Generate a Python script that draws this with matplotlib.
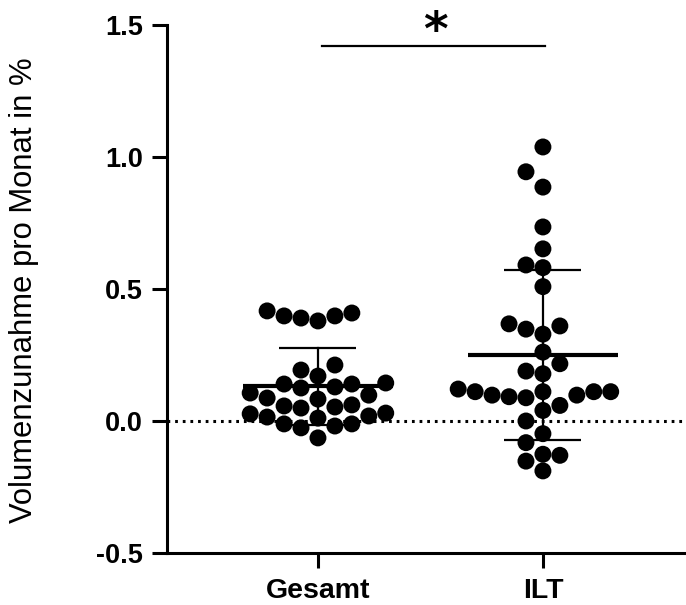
import numpy as np
import matplotlib
matplotlib.use('Agg')
import matplotlib.pyplot as plt

categories = ['Gesamt', 'ILT']
gesamt = [0.398, 0.409, 0.390, 0.379, 0.398, 0.417,
          0.212, 0.193, 0.170, 0.125, 0.129, 0.140, 0.140, 0.144, 0.098, 0.106,
          0.053, 0.061, 0.057, 0.049, 0.087, 0.083,
          0.030, 0.027, 0.019, 0.011, 0.015,
          -0.011, -0.011, -0.019, -0.026, -0.064]
ilt = [1.038, 0.944, 0.886, 0.735, 0.652, 0.581, 0.591,
       0.509, 0.348, 0.368, 0.360, 0.329,
       0.261, 0.217, 0.179, 0.189,
       0.111, 0.111, 0.092, 0.098, 0.088, 0.098, 0.121, 0.111, 0.111,
       0.059, 0.040, 0.000, -0.048,
       -0.082, -0.126, -0.130, -0.152, -0.189]
y_ticks = [-0.5, 0.0, 0.5, 1.0, 1.5]
y_tick_labels = ['-0.5', '0.0', '0.5', '1.0', '1.5']
y_label = 'Volumenzunahme pro Monat in %'
sig_label = '*'
sig_y = 1.42

plt.rcParams['font.family'] = ['Liberation Sans', 'DejaVu Sans']

W, H = 686, 605
fig = plt.figure(figsize=(W / 100, H / 100), dpi=100)
ax = fig.add_axes([167 / W, (H - 553) / H, (686 - 167) / W, (553 - 25) / H])
ax.set_xlim(-0.671, 1.636)
ax.set_ylim(-0.5, 1.5)

marker_pt = 12.2
diam_px = marker_pt * 100 / 72

p0 = ax.transData.transform((0, 0))
p1 = ax.transData.transform((1, 1))
sx, sy = p1 - p0


def swarm(values):
    values = np.asarray(values)
    order = np.argsort(values)
    slots = {}
    xs = np.zeros(len(values))
    cands = [0]
    for n in range(1, 30):
        cands += [-n, n]
    for i in order:
        ypx = values[i] * sy
        for c in cands:
            if all(abs(ypx - yy) >= diam_px * 0.98 for yy in slots.get(c, [])):
                break
        slots.setdefault(c, []).append(ypx)
        xs[i] = c * diam_px / sx
    return xs


ax.axhline(0, color='black', lw=2.2, linestyle=(0, (0.9, 1.6)), zorder=1)

for i, vals in enumerate([gesamt, ilt]):
    vals = np.asarray(vals)
    xs = swarm(vals) + i
    ax.scatter(xs, vals, s=marker_pt ** 2, color='black', edgecolors='none', zorder=2)
    m = vals.mean()
    sd = vals.std(ddof=1)
    ax.plot([i - 0.333, i + 0.333], [m, m], color='black', lw=3, zorder=3, solid_capstyle='butt')
    ax.plot([i, i], [m - sd, m + sd], color='black', lw=1.6, zorder=3)
    for yy in (m - sd, m + sd):
        ax.plot([i - 0.171, i + 0.171], [yy, yy], color='black', lw=1.6, zorder=3,
                solid_capstyle='butt')

ax.plot([0.02, 1.01], [sig_y, sig_y], color='black', lw=1.6, clip_on=False)
ax.text(0.52, 1.49, sig_label, ha='center', va='center_baseline', fontsize=34,
        fontweight='bold', family=['DejaVu Sans'], clip_on=False)

ax.set_xticks([0, 1])
ax.set_xticklabels(categories, fontsize=20.5, fontweight='bold')
ax.set_yticks(y_ticks)
ax.set_yticklabels(y_tick_labels, fontsize=19.5, fontweight='bold')
ax.tick_params(axis='both', length=10.8, width=2.2, color='black')
ax.tick_params(axis='y', pad=6.5)
ax.tick_params(axis='x', pad=7)
for s in ['top', 'right']:
    ax.spines[s].set_visible(False)
for s in ['left', 'bottom']:
    ax.spines[s].set_linewidth(2.2)

fig.text(24 / W, 1 - 290 / H, y_label, rotation=90, ha='center', va='center', fontsize=22.3)

fig.savefig('out.png', dpi=100)
